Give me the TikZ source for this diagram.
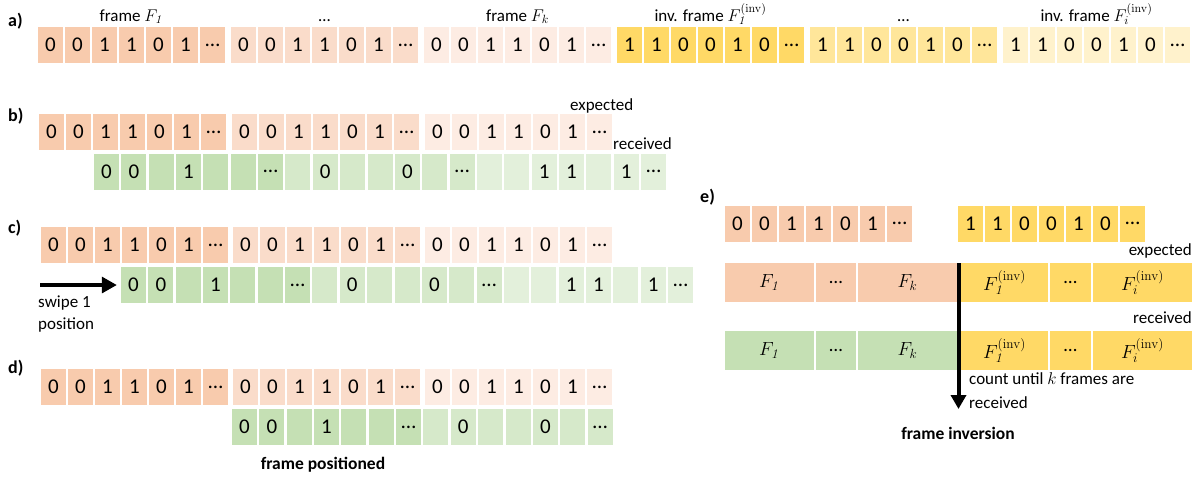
\RequirePackage{fix-cm}
\documentclass[tikz,border=0pt]{standalone}
\usepackage[no-math]{fontspec}
\setmainfont{Carlito}
\usetikzlibrary{arrows.meta}

\definecolor{or0}{HTML}{F8CBAD}
\definecolor{or1}{HTML}{FADCCA}
\definecolor{or2}{HTML}{FDECE3}
\definecolor{ye0}{HTML}{FFD966}
\definecolor{ye1}{HTML}{FFE69A}
\definecolor{ye2}{HTML}{FFF2CC}
\definecolor{gr0}{HTML}{C5E0B4}
\definecolor{gr1}{HTML}{D6E9CA}
\definecolor{gr2}{HTML}{E3F0DB}

\tikzset{
  bitcell/.style={minimum width=25pt, minimum height=36pt, inner sep=0pt, font=\fontsize{21}{24}\selectfont},
  framebox/.style={minimum height=39pt, inner sep=0pt, font=\fontsize{19}{22}\selectfont},
  lbl/.style={font=\fontsize{17}{21}\selectfont, inner sep=0pt},
  boldlbl/.style={font=\fontsize{17.5}{21}\selectfont\bfseries, inner sep=0pt},
  tag/.style={font=\fontsize{18}{21}\selectfont\bfseries, inner sep=0pt, anchor=base west},
  push/.style={line width=3.2pt, -{Triangle[width=16pt,length=15pt]}},
  pushdown/.style={line width=4pt, -{Triangle[width=15pt,length=14pt]}},
}

\newcommand\txbits{0,0,1,1,0,1,…}
\newcommand\invbits{1,1,0,0,1,0,…}
\newcommand\rxbits{0,0,{},1,{},{},…,{},0,{},{},0,{},…,{},{},1,1,{},1,…}
\newcommand\rxshort{0,0,{},1,{},{},…,{},0,{},{},0,{},…}

\begin{document}
\begin{tikzpicture}[x=1pt, y=-1pt]
\useasboundingbox (0,0) rectangle (1197,479);

% a) sent stream
\node[tag] (tag-a) at (8,27) {a)};
\foreach \g/\col in {0/or0, 1/or1, 2/or2}
  \foreach \b [count=\i from 0] in \txbits
    \node[bitcell, fill=\col] (a\g-\i) at (50.5+\g*193+\i*27, 45) {\b};
\foreach \g/\col in {3/ye0, 4/ye1, 5/ye2}
  \foreach \b [count=\i from 0] in \invbits
    \node[bitcell, fill=\col] (a\g-\i) at (50.5+\g*193+\i*27, 45) {\b};
\node[lbl, anchor=base] (a-name0) at (a0-3 |- 0,21) {frame $F_{\mathit{1}}$};
\node[lbl, anchor=base] (a-name1) at (a1-3 |- 0,21) {…};
\node[lbl, anchor=base] (a-name2) at (a2-3 |- 0,21) {frame $F_k$};
\node[lbl, anchor=base] (a-name3) at (a3-3 |- 0,21) {inv. frame $F_{\mathit{1}}^{(\mathrm{inv})}$};
\node[lbl, anchor=base] (a-name4) at (a4-3 |- 0,21) {…};
\node[lbl, anchor=base] (a-name5) at (a5-3 |- 0,21) {inv. frame $F_i^{(\mathrm{inv})}$};

% b) expected vs received
\node[tag] (tag-b) at (8,121) {b)};
\foreach \g/\col in {0/or0, 1/or1, 2/or2}
  \foreach \b [count=\i from 0] in \txbits
    \node[bitcell, fill=\col] (b\g-\i) at (51.5+\g*193+\i*27, 132) {\b};
\foreach \b [count=\i from 0] in \rxbits {
  \pgfmathtruncatemacro\gi{\i/7}
  \node[bitcell, fill=gr\gi] (b-rx\i) at (106.5+\i*27.35, 171.5) {\b};
}
\node[lbl, anchor=base west] (b-exp) at (570,110) {expected};
\node[lbl, anchor=base west] (b-rec) at (613,149) {received};

% c) shift by one
\node[tag] (tag-c) at (8,233) {c)};
\foreach \g/\col in {0/or0, 1/or1, 2/or2}
  \foreach \b [count=\i from 0] in \txbits
    \node[bitcell, fill=\col] (c\g-\i) at (53.5+\g*192+\i*27, 245) {\b};
\foreach \b [count=\i from 0] in \rxbits {
  \pgfmathtruncatemacro\gi{\i/7}
  \node[bitcell, fill=gr\gi] (c-rx\i) at (133.5+\i*27.35, 285) {\b};
}
\coordinate (c-from) at (40,285);
\draw[push] (c-from) -- ([xshift=-4pt]c-rx0.west);
\node[lbl, anchor=base west] (c-swipe1) at (38,307) {swipe 1};
\node[lbl, anchor=base west] (c-swipe2) at (38,329) {position};

% d) aligned
\node[tag] (tag-d) at (8,373) {d)};
\foreach \g/\col in {0/or0, 1/or1, 2/or2}
  \foreach \b [count=\i from 0] in \txbits
    \node[bitcell, fill=\col] (d\g-\i) at (53.5+\g*192+\i*27, 387) {\b};
\foreach \b [count=\i from 0] in \rxshort {
  \pgfmathtruncatemacro\gi{\i/7}
  \node[bitcell, fill=gr\gi] (d-rx\i) at (244.5+\i*27.35, 427) {\b};
}
\node[boldlbl, anchor=base] (d-note) at (323,469) {frame positioned};

% e) inversion
\node[tag] (tag-e) at (700,202) {e)};
\foreach \b [count=\i from 0] in \txbits
  \node[bitcell, fill=or0] (e-tx\i) at (737.5+\i*27, 223.5) {\b};
\foreach \b [count=\i from 0] in \invbits
  \node[bitcell, fill=ye0] (e-inv\i) at (970.5+\i*27, 223.5) {\b};
\node[lbl, anchor=base east] (e-exp) at (1192,255) {expected};
\node[framebox, fill=or0, minimum width=89pt] (eo0) at (769.5,282.5) {$F_{\mathit{1}}$};
\node[framebox, fill=or0, minimum width=40pt] (eo1) at (836,282.5) {…};
\node[framebox, fill=or0, minimum width=99pt] (eo2) at (907.5,282.5) {$F_k$};
\node[framebox, fill=ye0, minimum width=87pt] (eo3) at (1004.5,282.5) {$F_{\mathit{1}}^{(\mathrm{inv})}$};
\node[framebox, fill=ye0, minimum width=41pt] (eo4) at (1070.5,282.5) {…};
\node[framebox, fill=ye0, minimum width=99pt] (eo5) at (1142.5,282.5) {$F_i^{(\mathrm{inv})}$};
\node[lbl, anchor=base east] (e-rec) at (1192,323) {received};
\node[framebox, fill=gr0, minimum width=89pt] (eg0) at (769.5,350.5) {$F_{\mathit{1}}$};
\node[framebox, fill=gr0, minimum width=40pt] (eg1) at (836,350.5) {…};
\node[framebox, fill=gr0, minimum width=99pt] (eg2) at (907.5,350.5) {$F_k$};
\node[framebox, fill=ye0, minimum width=87pt] (eg3) at (1004.5,350.5) {$F_{\mathit{1}}^{(\mathrm{inv})}$};
\node[framebox, fill=ye0, minimum width=41pt] (eg4) at (1070.5,350.5) {…};
\node[framebox, fill=ye0, minimum width=99pt] (eg5) at (1142.5,350.5) {$F_i^{(\mathrm{inv})}$};
\coordinate (e-cut) at (958.5,263);
\coordinate (e-tip) at (958.5,409);
\draw[pushdown] (e-cut) -- (e-tip);
\node[lbl, anchor=base west] (e-count1) at (969,384) {count until $k$ frames are};
\node[lbl, anchor=base west] (e-count2) at (969,408) {received};
\node[boldlbl, anchor=base] (e-note) at (958,439) {frame inversion};
\end{tikzpicture}
\end{document}
